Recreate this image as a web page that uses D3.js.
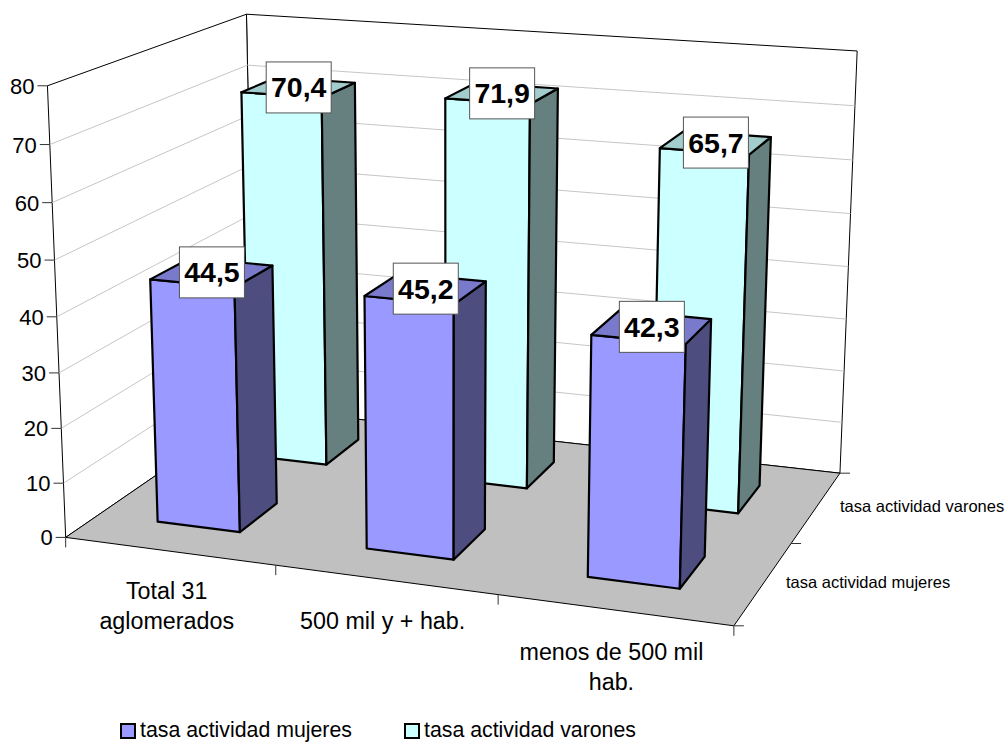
<!DOCTYPE html>
<html>
<head>
<meta charset="utf-8">
<script src="https://cdn.jsdelivr.net/npm/d3@7"></script>
<style>
body { margin: 0; background: #fff; }
text { font-family: "Liberation Sans", Arial, sans-serif; fill: #000; }
</style>
</head>
<body>
<div id="chart"></div>
<script>
'use strict';

const categories = ['Total 31 aglomerados', '500 mil y + hab.', 'menos de 500 mil hab.'];
const seriesNames = ['tasa actividad mujeres', 'tasa actividad varones'];
const mujeres = [44.5, 45.2, 42.3];
const varones = [70.4, 71.9, 65.7];
const valueTicks = [0, 10, 20, 30, 40, 50, 60, 70, 80];

const colors = {
  mujeres: { front: '#9999ff', top: '#7a7acc', side: '#4d4d80' },
  varones: { front: '#ccffff', top: '#a3cccc', side: '#668080' }
};

const width = 1007, height = 743;

// the box of the chart: unit cube [x, h, z] against where its corners sit on the picture
const cubeCorners = [
  [[0, 0, 0], [66, 537]], [[1, 0, 0], [734, 626]], [[1, 0, 1], [840, 473]], [[0, 0, 1], [254, 408]],
  [[0, 1, 0], [47, 86]], [[0, 1, 1], [247, 14]], [[1, 1, 1], [857, 51]]
];

// least squares fit of the 3x4 camera matrix
function fitCamera(pairs) {
  const rows = [], rhs = [];
  pairs.forEach(([[x, y, z], [u, v]]) => {
    rows.push([x, y, z, 1, 0, 0, 0, 0, -u * x, -u * y, -u * z]); rhs.push(u);
    rows.push([0, 0, 0, 0, x, y, z, 1, -v * x, -v * y, -v * z]); rhs.push(v);
  });
  const n = 11;
  const m = d3.range(n).map(i => d3.range(n + 1).map(j =>
    d3.sum(rows, (r, k) => r[i] * (j < n ? r[j] : rhs[k]))));
  for (let i = 0; i < n; i++) {
    let best = i;
    for (let k = i + 1; k < n; k++) if (Math.abs(m[k][i]) > Math.abs(m[best][i])) best = k;
    [m[i], m[best]] = [m[best], m[i]];
    for (let k = 0; k < n; k++) {
      if (k === i) continue;
      const f = m[k][i] / m[i][i];
      for (let j = i; j <= n; j++) m[k][j] -= f * m[i][j];
    }
  }
  return m.map((r, i) => r[n] / r[i]);
}
const cam = fitCamera(cubeCorners);
function project(x, h, z) {
  const w = cam[8] * x + cam[9] * h + cam[10] * z + 1;
  return [(cam[0] * x + cam[1] * h + cam[2] * z + cam[3]) / w,
          (cam[4] * x + cam[5] * h + cam[6] * z + cam[7]) / w];
}

const xScale = d3.scaleBand().domain(categories).range([-0.004, 0.996]).paddingInner(0.6).paddingOuter(0.3);
const zScale = d3.scaleBand().domain(seriesNames).range([0.004, 1.004]).paddingInner(0.592).paddingOuter(0.316);
const hScale = d3.scaleLinear().domain([0, 80]).range([0, 1]);

const svg = d3.select('#chart').append('svg').attr('width', width).attr('height', height);
const poly = pts => pts.map(p => p.join(',')).join(' ');

function wall(pts, fill) {
  svg.append('polygon').attr('points', poly(pts)).attr('fill', fill).attr('stroke', '#000').attr('stroke-width', 1);
}
wall([project(0, 0, 1), project(1, 0, 1), project(1, 1, 1), project(0, 1, 1)], '#fff');
wall([project(0, 0, 0), project(0, 0, 1), project(0, 1, 1), project(0, 1, 0)], '#fff');

// grid on both walls
svg.append('g').selectAll('polyline').data(valueTicks.filter(d => d > 0 && d < 80)).join('polyline')
  .attr('points', d => poly([project(0, hScale(d), 0), project(0, hScale(d), 1), project(1, hScale(d), 1)]))
  .attr('fill', 'none').attr('stroke', '#c6c6c6').attr('stroke-width', 1);

wall([project(0, 0, 0), project(1, 0, 0), project(1, 0, 1), project(0, 0, 1)], '#c0c0c0');

// value axis
const yAxis = svg.append('g').selectAll('g').data(valueTicks).join('g');
yAxis.append('line')
  .attr('x1', d => project(0, hScale(d), 0)[0] - 10).attr('x2', d => project(0, hScale(d), 0)[0])
  .attr('y1', d => project(0, hScale(d), 0)[1]).attr('y2', d => project(0, hScale(d), 0)[1])
  .attr('stroke', '#333');
yAxis.append('text')
  .attr('x', d => project(0, hScale(d), 0)[0] - 13).attr('y', d => project(0, hScale(d), 0)[1] + 8)
  .attr('text-anchor', 'end').attr('font-size', 22).text(d => d);

// category ticks + labels
const catEdges = [0, 1 / 3, 2 / 3, 1];
svg.append('g').selectAll('line').data(catEdges).join('line')
  .attr('x1', d => project(d, 0, 0)[0]).attr('x2', d => project(d, 0, 0)[0])
  .attr('y1', d => project(d, 0, 0)[1]).attr('y2', d => project(d, 0, 0)[1] + 10)
  .attr('stroke', '#333');

const catLines = [
  { lines: ['Total 31', 'aglomerados'], y: 599 },
  { lines: ['500 mil y + hab.'], y: 629 },
  { lines: ['menos de 500 mil', 'hab.'], y: 660 }
];
catLines.forEach((c, i) => {
  const cx = project(xScale(categories[i]) + xScale.bandwidth() / 2, 0, 0)[0];
  c.lines.forEach((t, j) => {
    svg.append('text').attr('x', cx).attr('y', c.y + j * 30)
      .attr('text-anchor', 'middle').attr('font-size', 23.3).text(t);
  });
});

// depth ticks + labels
svg.append('g').selectAll('line').data([0, 0.5, 1]).join('line')
  .attr('x1', d => project(1, 0, d)[0]).attr('x2', d => project(1, 0, d)[0] + 10)
  .attr('y1', d => project(1, 0, d)[1]).attr('y2', d => project(1, 0, d)[1])
  .attr('stroke', '#333');
const depthPos = [[786, 588], [840, 512]];
seriesNames.forEach((s, i) => {
  svg.append('text').attr('x', depthPos[i][0]).attr('y', depthPos[i][1]).attr('font-size', 16.5).text(s);
});

// bars, back row first
const bars = [];
[['varones', varones, seriesNames[1]], ['mujeres', mujeres, seriesNames[0]]].forEach(([key, vals, name]) => {
  vals.forEach((v, i) => bars.push({ key, value: v, cat: categories[i], name }));
});
function barFaces(d) {
  const x0 = xScale(d.cat), x1 = x0 + xScale.bandwidth();
  const z0 = zScale(d.name), z1 = z0 + zScale.bandwidth();
  const h = hScale(d.value);
  return [
    { fill: colors[d.key].front, pts: [project(x0, 0, z0), project(x1, 0, z0), project(x1, h, z0), project(x0, h, z0)] },
    { fill: colors[d.key].side, pts: [project(x1, 0, z0), project(x1, 0, z1), project(x1, h, z1), project(x1, h, z0)] },
    { fill: colors[d.key].top, pts: [project(x0, h, z0), project(x1, h, z0), project(x1, h, z1), project(x0, h, z1)] }
  ];
}
svg.append('g').selectAll('g').data(bars).join('g')
  .selectAll('polygon').data(barFaces).join('polygon')
  .attr('points', d => poly(d.pts)).attr('fill', d => d.fill)
  .attr('stroke', '#000').attr('stroke-width', 2.2).attr('stroke-linejoin', 'round');

// value labels sit on the middle of each top face
const labels = svg.append('g').selectAll('g').data(bars).join('g')
  .attr('transform', d => {
    const xm = xScale(d.cat) + xScale.bandwidth() / 2, zm = zScale(d.name) + zScale.bandwidth() / 2;
    const p = project(xm, hScale(d.value), zm);
    return `translate(${p[0]},${p[1]})`;
  });
labels.append('rect').attr('x', -32.5).attr('y', -25.5).attr('width', 65).attr('height', 51)
  .attr('fill', '#fff').attr('stroke', '#555').attr('stroke-width', 1);
labels.append('text').attr('text-anchor', 'middle').attr('y', 10).attr('font-size', 28.5)
  .attr('font-weight', 'bold').text(d => String(d.value).replace('.', ','));

// legend
const legendX = [121, 405];
const legend = svg.append('g').selectAll('g').data(seriesNames).join('g')
  .attr('transform', (d, i) => `translate(${legendX[i]},724)`);
legend.append('rect').attr('width', 14).attr('height', 14)
  .attr('fill', (d, i) => i ? colors.varones.front : colors.mujeres.front)
  .attr('stroke', '#000').attr('stroke-width', 2);
legend.append('text').attr('x', 19).attr('y', 13).attr('font-size', 21.3).text(d => d);
</script>
</body>
</html>
